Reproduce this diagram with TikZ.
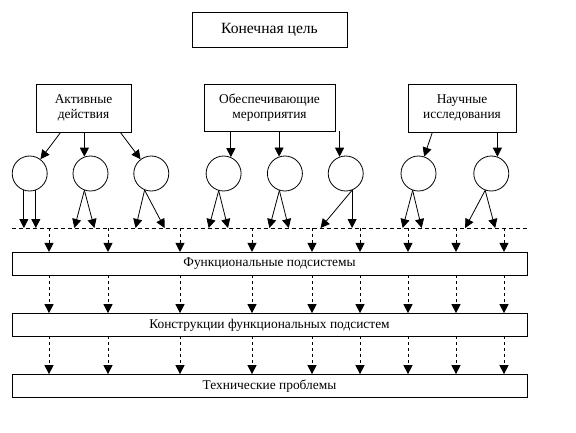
\documentclass[tikz,border=0pt]{standalone}
\usepackage{fontspec}
\setmainfont{Liberation Serif}
\usetikzlibrary{positioning, arrows.meta, calc}

\begin{document}
\begin{tikzpicture}[x=1pt, y=-1pt, line width=0.8pt,
  box/.style={draw, align=center, inner sep=0pt, font=\fontsize{13.4}{15.5}\selectfont},
  crc/.style={draw, circle, minimum size=35pt, inner sep=0pt},
  arr/.style={-{Triangle[length=9pt, width=9pt]}},
  darr/.style={arr, dash pattern=on 3pt off 3pt}]
  \useasboundingbox (0,0) rectangle (576,432);

  \node[box, minimum width=155pt, minimum height=35pt, font=\fontsize{15.6}{18}\selectfont] (K) at (269.5,29.5) {Конечная цель};
  \node[box, minimum width=95pt, minimum height=48pt] (A) at (83.5,108) {Активные\\действия};
  \node[box, minimum width=131pt, minimum height=47pt] (O) at (269.5,107.5) {Обеспечивающие\\мероприятия};
  \node[box, minimum width=108pt, minimum height=48pt] (N) at (462,108) {Научные\\исследования};

  \node[crc] (C1) at (29.7,173.5) {};
  \node[crc, right=25pt of C1] (C2) {};
  \node[crc, right=25pt of C2] (C3) {};
  \node[crc, right=36.5pt of C3] (C4) {};
  \node[crc, right=25.5pt of C4] (C5) {};
  \node[crc, right=25pt of C5] (C6) {};
  \node[crc, right=37pt of C6] (C7) {};
  \node[crc, right=37pt of C7] (C8) {};

  \node[box, minimum width=515pt, minimum height=22.7pt] (P1) at (269.5,263.7) {Функциональные подсистемы};
  \node[box, minimum width=515pt, minimum height=22.5pt, below=37.7pt of P1] (P2) {Конструкции функциональных подсистем};
  \node[box, minimum width=515pt, minimum height=23pt, below=37.7pt of P2] (P3) {Технические проблемы};

  \coordinate (D1) at (49,228);
  \coordinate (D2) at (108,228);
  \coordinate (D3) at (180,228);
  \coordinate (D4) at (252,228);
  \coordinate (D5) at (312,228);
  \coordinate (D6) at (360,228);
  \coordinate (D7) at (408,228);
  \coordinate (D8) at (456,228);
  \coordinate (D9) at (504,228);

  % boxes to circles
  \draw[arr] ([xshift=25pt]A.south west) -- (C1);
  \draw[arr] (A.south -| C2.110) -- (C2.110);
  \draw[arr] ([xshift=-11pt]A.south east) -- (C3);
  \draw[arr] (O.south -| C4.66) -- (C4.66);
  \draw[arr] (O.south -| C5.109) -- (C5.109);
  \draw[arr] (O.south -| C6.110) -- (C6.110);
  \draw[arr] ([xshift=24.7pt]N.south west) -- (C7);
  \draw[arr] (N.south -| C8.70) -- (C8.70);

  % circles to the dashed line
  \draw[dash pattern=on 4pt off 3pt] (P1.west |- D1) -- (P1.east |- D1);
  \draw[arr] (C1.251) -- (C1.251 |- D1);
  \draw[arr] (C1.290) -- (C1.290 |- D1);
  \draw[arr] (C2.250) -- ($(C2.250 |- D1)+(-10,0)$);
  \draw[arr] (C2.250) -- ($(C2.250 |- D1)+(10,0)$);
  \draw[arr] (C3.248) -- ($(C3.248 |- D1)+(-9,0)$);
  \draw[arr] (C3.248) -- ($(C3.248 |- D1)+(20,0)$);
  \draw[arr] (C4.254) -- ($(C4.254 |- D1)+(-10,0)$);
  \draw[arr] (C4.254) -- ($(C4.254 |- D1)+(9.3,0)$);
  \draw[arr] (C5.252) -- ($(C5.252 |- D1)+(-10,0)$);
  \draw[arr] (C5.252) -- ($(C5.252 |- D1)+(9.4,0)$);
  \draw[arr] (C6.291) -- ($(C6.291 |- D1)+(-31.6,0)$);
  \draw[arr] (C6.291) -- (C6.291 |- D1);
  \draw[arr] (C7.251) -- ($(C7.251 |- D1)+(-10,0)$);
  \draw[arr] (C7.251) -- ($(C7.251 |- D1)+(9,0)$);
  \draw[arr] (C8.250) -- ($(C8.250 |- D1)+(-20,0)$);
  \draw[arr] (C8.250) -- ($(C8.250 |- D1)+(10,0)$);

  % dashed arrows down through the three boxes
  \draw[darr] (D1) -- (D1 |- P1.north);
  \draw[darr] (D2) -- (D2 |- P1.north);
  \draw[darr] (D3) -- (D3 |- P1.north);
  \draw[darr] (D4) -- (D4 |- P1.north);
  \draw[darr] (D5) -- (D5 |- P1.north);
  \draw[darr] (D6) -- (D6 |- P1.north);
  \draw[darr] (D7) -- (D7 |- P1.north);
  \draw[darr] (D8) -- (D8 |- P1.north);
  \draw[darr] (D9) -- (D9 |- P1.north);
  \draw[darr] (D1 |- P1.south) -- (D1 |- P2.north);
  \draw[darr] (D2 |- P1.south) -- (D2 |- P2.north);
  \draw[darr] (D3 |- P1.south) -- (D3 |- P2.north);
  \draw[darr] (D4 |- P1.south) -- (D4 |- P2.north);
  \draw[darr] (D5 |- P1.south) -- (D5 |- P2.north);
  \draw[darr] (D6 |- P1.south) -- (D6 |- P2.north);
  \draw[darr] (D7 |- P1.south) -- (D7 |- P2.north);
  \draw[darr] (D8 |- P1.south) -- (D8 |- P2.north);
  \draw[darr] (D9 |- P1.south) -- (D9 |- P2.north);
  \draw[darr] (D1 |- P2.south) -- (D1 |- P3.north);
  \draw[darr] (D2 |- P2.south) -- (D2 |- P3.north);
  \draw[darr] (D3 |- P2.south) -- (D3 |- P3.north);
  \draw[darr] (D4 |- P2.south) -- (D4 |- P3.north);
  \draw[darr] (D5 |- P2.south) -- (D5 |- P3.north);
  \draw[darr] (D6 |- P2.south) -- (D6 |- P3.north);
  \draw[darr] (D7 |- P2.south) -- (D7 |- P3.north);
  \draw[darr] (D8 |- P2.south) -- (D8 |- P3.north);
  \draw[darr] (D9 |- P2.south) -- (D9 |- P3.north);
\end{tikzpicture}
\end{document}
